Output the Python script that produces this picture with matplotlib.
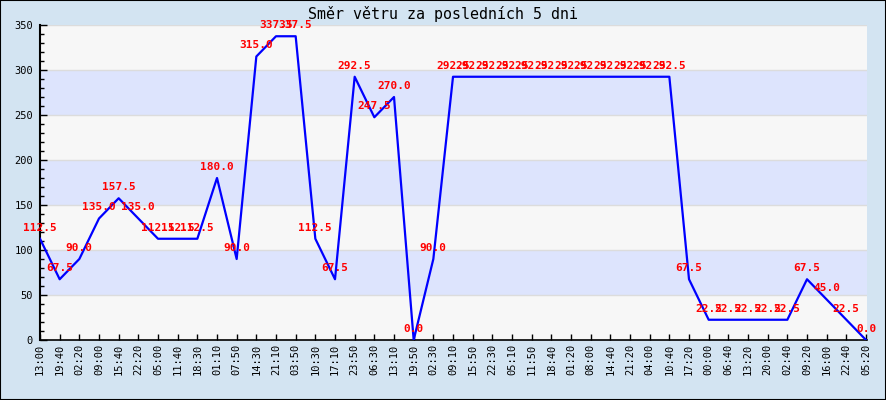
import matplotlib
matplotlib.use("Agg")
import matplotlib.pyplot as plt
from matplotlib.ticker import MultipleLocator

# popisky casu na ose x
times = ["13:00", "19:40", "02:20", "09:00", "15:40", "22:20", "05:00", "11:40",
         "18:30", "01:10", "07:50", "14:30", "21:10", "03:50", "10:30", "17:10",
         "23:50", "06:30", "13:10", "19:50", "02:30", "09:10", "15:50", "22:30",
         "05:10", "11:50", "18:40", "01:20", "08:00", "14:40", "21:20", "04:00",
         "10:40", "17:20", "00:00", "06:40", "13:20", "20:00", "02:40", "09:20",
         "16:00", "22:40", "05:20"]

# smer vetru ve stupnich
direction = [112.5, 67.5, 90.0, 135.0, 157.5, 135.0, 112.5, 112.5,
             112.5, 180.0, 90.0, 315.0, 337.5, 337.5, 112.5, 67.5,
             292.5, 247.5, 270.0, 0.0, 90.0, 292.5, 292.5, 292.5,
             292.5, 292.5, 292.5, 292.5, 292.5, 292.5, 292.5, 292.5,
             292.5, 67.5, 22.5, 22.5, 22.5, 22.5, 22.5, 67.5,
             45.0, 22.5, 0.0]

title = "Směr větru za posledních 5 dni"

W, H = 886, 400
bg = "#d3e4f2"
mono = "DejaVu Sans Mono"

fig = plt.figure(figsize=(W / 100, H / 100), dpi=100, facecolor=bg)
fig.patches.append(plt.Rectangle((0, 0), 1, 1, transform=fig.transFigure,
                                 fill=False, edgecolor="black", linewidth=1.5))

ax = fig.add_axes([40 / W, 60 / H, 827 / W, 315 / H])
ax.set_facecolor("#f7f7f7")

# pruhy na pozadi
for lo in range(50, 350, 100):
    ax.axhspan(lo, lo + 50, color="#dde4fd", zorder=0, linewidth=0)
for y in range(50, 351, 50):
    ax.axhline(y, color="#dcdcdc", linewidth=1, zorder=0.5)

x = list(range(len(times)))
ax.plot(x, direction, color="#0000ff", linewidth=1.6, zorder=3)

for xi, v in zip(x, direction):
    ax.annotate(f"{v:.1f}", (xi, v), xytext=(0, 8), textcoords="offset points",
                ha="center", va="center", color="red", fontsize=8,
                fontweight="bold", family=mono, zorder=4, annotation_clip=False)

ax.set_xlim(0, len(times) - 1 + 0.05)
ax.set_ylim(0, 350)
ax.set_xticks(x)
ax.set_xticklabels(times, rotation=90, family=mono, fontsize=7.5)
ax.yaxis.set_major_locator(MultipleLocator(50))
ax.yaxis.set_minor_locator(MultipleLocator(10))
for lab in ax.get_yticklabels():
    lab.set_family(mono)
    lab.set_fontsize(7.5)

ax.tick_params(axis="both", which="both", direction="in", color="black")
ax.tick_params(axis="y", which="major", length=5, width=1, pad=5)
ax.tick_params(axis="y", which="minor", length=3, width=1)
ax.tick_params(axis="x", which="major", length=4, width=1, pad=3)

for s in ["top", "right"]:
    ax.spines[s].set_visible(False)
ax.spines["left"].set_linewidth(1.5)
ax.spines["bottom"].set_linewidth(1.2)

fig.text(443 / W, 1 - 14 / H, title, ha="center", va="center",
         family=mono, fontsize=10.8)

fig.savefig("out.png", dpi=100, facecolor=bg)
